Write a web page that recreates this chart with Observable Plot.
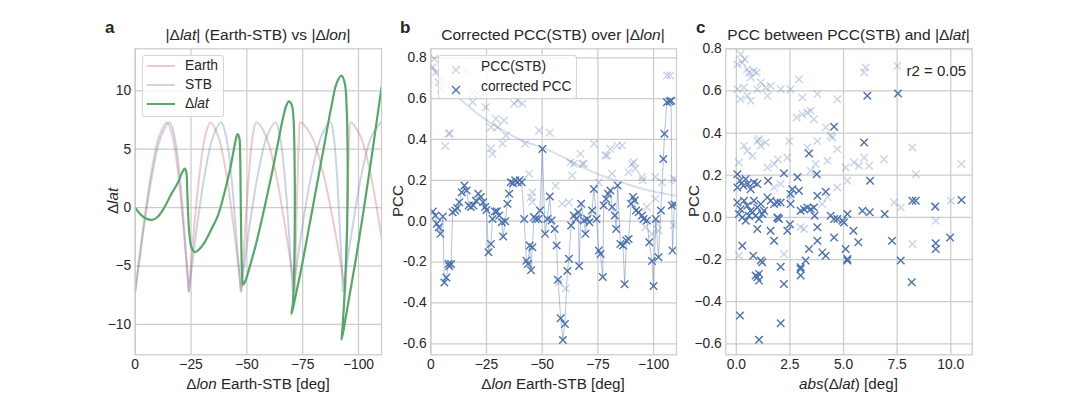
<!DOCTYPE html>
<html><head><meta charset="utf-8">
<script src="https://cdn.jsdelivr.net/npm/d3@7"></script>
<script src="https://cdn.jsdelivr.net/npm/@observablehq/plot@0.6"></script>
<style>
body{margin:0;background:#fff;}
#fig{position:relative;width:1080px;height:405px;overflow:hidden;background:#fff;font-family:"Liberation Sans",Arial,sans-serif;color:#262626;}
.abs{position:absolute;white-space:nowrap;line-height:1;}
.c{transform:translate(-50%,-50%);}
.lc{transform:translate(0,-50%);}
.letter{font-weight:bold;font-size:17px;}
.title{font-size:15.5px;}
.lab{font-size:15.2px;}
.rot{transform:translate(-50%,-50%) rotate(-90deg);}
.legend{background:rgba(255,255,255,0.8);border:1px solid rgba(204,204,204,0.8);border-radius:3px;box-sizing:border-box;}
.ltxt{font-size:13.8px;}
</style></head>
<body><div id="fig"></div>
<script>
// ---------- Panel a data ----------
const earthLon = [0,-0.6,-1.4,-3.6,-7.2,-10.7,-14.3,-16.7,-19.2,-21.6,-23.0,-23.6,-24.0,
 -24.4,-25.0,-26.4,-28.9,-31.3,-33.7,-37.2,-40.7,-44.1,-46.2,-47.0,-47.6,
 -47.9,-48.3,-49.3,-51.0,-52.6,-54.3,-58.6,-62.9,-67.2,-69.8,-70.8,-71.5,
 -71.6,-71.8,-72.1,-72.8,-73.4,-74.0,-79.1,-84.1,-89.2,-92.2,-93.4,-94.2,
 -94.3,-94.4,-94.8,-95.4,-95.9,-96.5,-100.9,-105.3,-109.6,-112.3,-113.3,-114.0];
const earthLat = [-7.2,-6.3,-4.95,-1.7,3.0,6.1,7.3,6.1,3.0,-1.7,-4.95,-6.3,-7.2,
 -6.3,-4.95,-1.7,3.0,6.1,7.3,6.1,3.0,-1.7,-4.95,-6.3,-7.2,
 -6.3,-4.95,-1.7,3.0,6.1,7.3,6.1,3.0,-1.7,-4.95,-6.3,-7.2,
 -6.3,-4.95,-1.7,3.0,6.1,7.3,6.1,3.0,-1.7,-4.95,-6.3,-7.2,
 -6.3,-4.95,-1.7,3.0,6.1,7.3,6.1,3.0,-1.7,-4.95,-6.3,-7.2];
const stbLon = [0,-0.6,-1.6,-3.9,-7.8,-11.6,-15.5,-17.6,-19.8,-21.9,-23.2,-23.7,-24.0,
 -24.6,-25.5,-27.6,-31.3,-34.9,-38.5,-40.7,-42.9,-45.0,-46.3,-46.9,-47.2,
 -47.8,-48.8,-51.1,-55.1,-59.0,-62.9,-64.8,-66.8,-68.7,-69.8,-70.3,-70.6,
 -71.3,-72.3,-74.8,-79.1,-83.3,-87.5,-88.9,-90.3,-91.6,-92.5,-92.8,-93.0,
 -93.7,-94.7,-97.3,-101.5,-105.8,-110.0];
const stbLat = [-7.2,-6.3,-4.95,-1.7,3.0,6.1,7.3,6.1,3.0,-1.7,-4.95,-6.3,-7.2,
 -6.3,-4.95,-1.7,3.0,6.1,7.3,6.1,3.0,-1.7,-4.95,-6.3,-7.2,
 -6.3,-4.95,-1.7,3.0,6.1,7.3,6.1,3.0,-1.7,-4.95,-6.3,-7.2,
 -6.3,-4.95,-1.7,3.0,6.1,7.3,6.1,3.0,-1.7,-4.95,-6.3,-7.2,
 -6.3,-4.95,-1.7,3.0,6.1,7.3];
const dlatLon = [0,-2,-4,-7.5,-10,-13,-16,-19,-21,-22.2,-22.9,-23.3,-23.7,-24.3,-25.2,
 -26.6,-28.5,-31,-34,-37,-40,-42.5,-44.5,-45.8,-46.6,-47.0,-47.2,-47.4,-47.6,-47.9,
 -48.3,-49.3,-50.5,-52,-54,-56,-58,-61.4,-64,-66,-67.6,-68.8,-70.1,-70.9,-71.3,
 -71.5,-71.4,-71.1,-70.6,-70.0,-70.8,-72,-74,-76,-79,-82,-85,-88,-90.3,-92.4,
 -93.9,-94.7,-95.1,-95.1,-94.8,-94.2,-93.5,-92.8,-92.4,-93.3,-95,-97,-99,-102,-106,-110.3];
const dlatVal = [0,-0.5,-0.85,-1.05,-0.8,0.0,1.1,2.1,3.0,3.35,3.0,1.5,-0.5,-2.3,-3.4,
 -3.8,-3.6,-3.0,-1.9,-0.7,1.3,3.3,5.3,6.3,6.0,4.5,1.5,-1.5,-4.0,-6.0,
 -6.6,-6.3,-5.6,-4.6,-3.2,-1.6,0.1,3.1,5.6,7.5,8.7,9.1,8.8,7.6,5.0,
 1.0,-3.0,-6.0,-8.2,-9.1,-8.5,-7.4,-5.6,-3.6,-0.5,2.6,5.7,8.8,10.7,11.3,
 10.6,8.5,5.0,1.0,-2.5,-5.5,-8.3,-10.4,-11.3,-10.5,-8.6,-6.4,-4.2,-0.6,4.5,10.3];
const lonTicks = [0,-25,-50,-75,-100];
const lonTickLabels = ["0","−25","−50","−75","−100"];
const latTicks = [-10,-5,0,5,10];
const latTickLabels = ["−10","−5","0","5","10"];

// ---------- Panel b data ----------
const corrLon = [-0.9,-2.1,-2.7,-3.6,-4.3,-5.4,-6.1,-7.0,-8.0,-8.3,-9.1,-9.8,-11,-11.8,-12.8,-13.9,-15.1,-16.1,-17,-18,
 -19.1,-20.3,-21.3,-22.5,-23.5,-24.4,-25,-25.9,-27,-27.7,-28.8,-29.7,-30.7,-31.9,-32.5,-33.4,-34.4,-35.2,-35.9,-37,
 -37.9,-38.9,-39.9,-40.8,-41.9,-42.9,-43.6,-44.4,-45,-45.6,-46.3,-47.1,-48.3,-49,-50.1,-51.3,-52.3,-53.4,-54.2,-55.6,
 -56.5,-57.1,-58.3,-59.3,-60.2,-61.3,-62,-63,-64.2,-65.3,-66.2,-66.6,-67.5,-68.7,-69.4,-70.2,-71.2,-72.4,-73.2,-74.4,
 -75.4,-76.2,-77.2,-77.6,-78.7,-79.6,-80.6,-81.4,-82.6,-83.2,-83.9,-85.1,-86.3,-87,-87.8,-88.8,-89.9,-90.8,-91.5,-92.1,
 -93.3,-94.8,-95.5,-97,-98.1,-99.3,-100,-101,-102.2,-103.3,-104.4,-104.9,-106,-107.2,-107.9,-108.2,-108.5,-109.4];
const corrPcc = [0.047,0.028,-0.013,-0.03,-0.062,0.023,-0.30,-0.276,-0.209,-0.22,-0.209,0.044,0.052,0.065,0.093,0.142,0.175,0.15,0.077,0.069,
 0.077,0.1,0.134,0.118,0.093,0.069,0.055,-0.152,-0.111,0.011,0.047,0.049,0.028,-0.005,-0.075,0.0,0.085,0.134,0.191,0.186,
 0.2,0.191,0.2,0.191,0.011,-0.193,-0.21,-0.119,-0.24,-0.127,0.02,0.011,0.011,0.052,0.354,-0.062,0.011,0.121,0.003,-0.038,
 -0.119,-0.287,-0.475,-0.581,-0.503,-0.244,-0.184,-0.021,0.028,0.011,0.044,-0.219,0.085,0.003,-0.062,0.011,-0.005,0.052,0.158,0.011,
 -0.144,-0.16,-0.273,0.077,0.109,0.134,0.15,0.069,0.028,-0.038,0.175,-0.111,-0.119,-0.309,-0.095,-0.087,0.085,0.118,0.101,0.052,
 0.044,0.028,0.011,0.003,-0.103,-0.195,-0.317,0.011,-0.176,0.052,0.305,0.428,0.582,0.586,0.59,0.077,-0.144,0.082];
const pccLon = [-0.9,-1.6,-2.4,-3.5,-4.6,-6.5,-8.0,-8.6,-12.1,-15.8,-18.8,-18.8,-21,-24.7,-27,-27,-27.7,-29.2,-30,-32.2,
 -32.9,-33.7,-37.4,-38.9,-41.1,-42.3,-44.1,-44.9,-45.6,-45.6,-48.6,-53.4,-56,-57.5,-59,-60.5,-62,-62.7,-63.5,-64.2,
 -67.2,-68,-68.7,-73.2,-75.4,-78.4,-79.2,-80.6,-81.4,-83.6,-85.9,-88.8,-90.3,-91.1,-91.8,-94.8,-95.2,-96.3,-97,-99.3,
 -100.8,-100.8,-101.5,-102.2,-103.8,-106,-107.5,-109,-109,-110];
const pccStb = [0.754,0.795,0.73,0.68,0.648,0.368,0.428,0.43,0.762,0.738,0.624,0.583,0.624,0.558,0.356,0.46,0.33,0.502,0.46,0.38,
 0.493,0.42,0.575,0.591,0.575,0.379,0.232,0.117,0.142,0.094,0.444,0.433,0.174,-0.30,0.085,-0.33,0.093,0.289,0.224,0.281,
 0.33,0.28,0.281,0.379,0.19,0.322,0.322,0.355,0.232,0.37,0.371,0.24,0.28,0.289,0.257,0.216,0.2,-0.03,0.069,-0.062,
 0.216,0.11,-0.013,-0.046,0.191,0.713,0.713,-0.02,0.208,0.2];
const fitLon = [0,-5,-10,-15,-20,-25,-30,-40,-50,-60,-70,-80,-90,-100,-110];
const fitPcc = [0.76,0.69,0.63,0.58,0.535,0.495,0.46,0.40,0.36,0.31,0.255,0.21,0.175,0.145,0.125];
const pccTicks = [-0.6,-0.4,-0.2,0,0.2,0.4,0.6,0.8];
const pccTickLabelsB = ["-0.6","-0.4","-0.2","0.0","0.2","0.4","0.6","0.8"];
const pccTickLabelsC = ["−0.6","−0.4","−0.2","0.0","0.2","0.4","0.6","0.8"];

// ---------- Panel c data ----------
const cCorrX = [4.56,6.11,7.54,0.05,0.05,0.17,0.33,0.44,0.54,0.67,0.82,0.98,0.05,0.2,0.36,0.51,0.67,0.82,0.98,1.14,
 1.29,0.12,0.28,0.44,0.59,0.75,0.9,1.06,1.21,1.45,1.48,1.6,1.76,1.91,2.07,1.91,1.99,2.22,2.53,2.53,
 2.61,2.85,2.92,3.0,3.16,3.31,3.39,3.47,3.62,3.65,3.75,3.78,4.17,3.78,4.4,4.56,4.71,4.95,5.02,5.46,
 5.69,5.88,5.96,6.22,6.24,6.92,7.26,8.21,8.37,9.27,9.3,9.3,9.97,10.5,0.28,0.79,0.98,1.6,1.76,1.94,
 2.38,2.5,3.39,3.78,4.01,4.17,4.56,5.1,5.18,5.18,1.14,2.07,3.0,0.17,1.06,2.07,0.9,0.98,1.06,1.06,
 1.21,2.22,3.0,3.0,3.23,5.18,7.67,8.18];
const cCorrY = [0.43,0.577,0.588,0.205,0.142,0.174,0.15,0.182,0.158,0.134,0.166,0.158,0.071,0.039,0.079,0.055,0.032,0.079,0.047,0.063,
 0.032,0.016,0.0,-0.016,0.008,0.024,0.008,-0.008,0.016,0.095,0.174,0.079,0.063,0.071,0.071,0.0,-0.008,0.209,0.111,0.063,
 0.134,0.19,0.126,0.032,0.039,0.047,0.303,0.039,0.047,0.008,0.205,0.103,0.122,-0.047,0.008,-0.008,-0.008,-0.016,-0.024,-0.063,
 -0.118,0.032,0.355,0.024,0.174,0.016,-0.111,0.079,0.079,0.051,-0.123,-0.15,-0.095,0.082,-0.134,-0.182,-0.055,-0.063,-0.111,-0.003,
 -0.063,-0.032,-0.15,-0.111,-0.166,-0.182,-0.095,-0.15,-0.197,0.016,-0.205,-0.234,-0.237,-0.466,-0.581,-0.502,-0.276,-0.284,-0.268,-0.3,
 -0.213,-0.316,-0.245,-0.276,-0.205,-0.205,-0.205,-0.308];
const cPccX = [0.05,0.2,0.28,0.39,0.51,0.59,0.67,0.82,0.95,0.05,0.2,0.36,0.51,0.67,0.98,1.14,1.37,1.45,1.6,2.07,
 2.53,2.92,3.08,3.47,2.81,3.08,3.31,3.62,3.78,4.17,4.71,4.48,5.96,6.03,7.51,0.12,0.36,0.51,0.75,0.98,
 1.14,1.37,1.06,1.45,1.76,1.94,2.38,2.46,3.31,3.47,3.7,3.78,4.25,4.4,4.71,5.1,5.18,5.49,5.72,5.96,
 6.19,6.89,7.36,7.67,8.21,8.37,9.3,9.3,10.0,10.5,8.21,3.0,3.16,2.22,0.12,1.76,2.07,2.53,4.01,4.25,4.71];
const cPccY = [0.727,0.774,0.735,0.75,0.703,0.687,0.664,0.695,0.687,0.608,0.561,0.616,0.577,0.553,0.608,0.64,0.616,0.577,0.624,0.608,
 0.608,0.656,0.569,0.506,0.474,0.49,0.498,0.466,0.585,0.427,0.561,0.379,0.687,0.711,0.719,0.261,0.34,0.316,0.292,0.363,
 0.34,0.355,0.371,0.237,0.253,0.276,0.284,0.363,0.332,0.221,0.253,0.363,0.269,0.387,0.324,0.237,0.174,0.261,0.245,0.284,
 0.245,0.276,0.071,0.047,0.332,0.205,0.055,-0.016,0.079,0.253,-0.126,-0.047,-0.055,-0.174,-0.182,0.142,0.158,0.095,0.063,0.095,0.142];
const absTicks = [0,2.5,5,7.5,10];
const absTickLabels = ["0.0","2.5","5.0","7.5","10.0"];

// ---------- build ----------
const zip = (xs, ys) => xs.map((x, i) => ({x, y: ys[i]}));
const earth = zip(earthLon, earthLat), stb = zip(stbLon, stbLat), dlat = zip(dlatLon, dlatVal);
const corr = zip(corrLon, corrPcc), pcc = zip(pccLon, pccStb), fit = zip(fitLon, fitPcc);
const cCorr = zip(cCorrX, cCorrY), cPcc = zip(cPccX, cPccY);

const BLUE = "#4C72B0", RED = "#C44E52", GREEN = "#55A868", GRID = "#cccccc";
const fig = document.getElementById("fig");
const lookup = (ticks, labels) => d => labels[ticks.indexOf(d)];

function panel(left, ml, mr, xdom, ydom, xt, xl, yt, yl, marks) {
  const svg = Plot.plot({
    width: 290, height: 405,
    marginLeft: ml, marginRight: mr, marginTop: 48.3, marginBottom: 50.7,
    x: {domain: xdom}, y: {domain: ydom},
    style: {fontFamily: '"Liberation Sans", Arial, sans-serif', fontSize: "13.8px", color: "#262626", background: "transparent"},
    marks: [
      Plot.gridX(xt, {stroke: GRID, strokeOpacity: 1, strokeWidth: 1.25}),
      Plot.gridY(yt, {stroke: GRID, strokeOpacity: 1, strokeWidth: 1.25}),
      ...marks,
      Plot.frame({stroke: GRID, strokeWidth: 1.25}),
      Plot.axisX(xt, {tickSize: 0, tickPadding: 4, tickFormat: lookup(xt, xl), label: null}),
      Plot.axisY(yt, {tickSize: 0, tickPadding: 4, tickFormat: lookup(yt, yl), label: null})
    ]
  });
  svg.style.position = "absolute"; svg.style.left = left + "px"; svg.style.top = "0px";
  fig.appendChild(svg);
}

const X = (d) => d.x, Y = (d) => d.y;
panel(100, 34.7, 9, [0, -110.3], [-12.6, 13.6], lonTicks, lonTickLabels, latTicks, latTickLabels, [
  Plot.line(earth, {x: "x", y: "y", stroke: RED, strokeOpacity: 0.3, strokeWidth: 2, curve: "catmull-rom", clip: true}),
  Plot.line(stb, {x: "x", y: "y", stroke: BLUE, strokeOpacity: 0.3, strokeWidth: 2, curve: "catmull-rom", clip: true}),
  Plot.line(dlat, {x: "x", y: "y", stroke: GREEN, strokeWidth: 2.2, curve: "catmull-rom", clip: true})
]);
panel(395, 35.3, 9, [0, -110.3], [-0.654, 0.844], lonTicks, lonTickLabels, pccTicks, pccTickLabelsB, [
  Plot.dot(pcc, {x: "x", y: "y", symbol: "times", stroke: BLUE, strokeOpacity: 0.3, r: 3.5, strokeWidth: 1.4, clip: true}),
  Plot.line(fit, {x: "x", y: "y", stroke: BLUE, strokeOpacity: 0.22, strokeWidth: 2, curve: "natural", clip: true}),
  Plot.line(corr, {x: "x", y: "y", stroke: BLUE, strokeOpacity: 0.55, strokeWidth: 0.8, clip: true}),
  Plot.dot(corr, {x: "x", y: "y", symbol: "times", stroke: BLUE, r: 3.5, strokeWidth: 1.4, clip: true})
]);
panel(690, 35.3, 8.3, [-0.49, 11.0], [-0.652, 0.8], absTicks, absTickLabels, pccTicks, pccTickLabelsC, [
  Plot.dot(cPcc, {x: "x", y: "y", symbol: "times", stroke: BLUE, strokeOpacity: 0.3, r: 3.5, strokeWidth: 1.4}),
  Plot.dot(cCorr, {x: "x", y: "y", symbol: "times", stroke: BLUE, r: 3.5, strokeWidth: 1.4}),
  Plot.text(["r2 = 0.05"], {frameAnchor: "top-right", dx: -6, dy: 17, fontSize: 15, fill: "#262626"})
]);

// ---------- text ----------
function txt(html, cls, x, y) {
  const d = document.createElement("div");
  d.className = "abs " + cls; d.innerHTML = html;
  d.style.left = x + "px"; d.style.top = y + "px";
  fig.appendChild(d); return d;
}
txt("a", "letter lc", 105, 27);
txt("b", "letter lc", 400, 27);
txt("c", "letter lc", 696, 27);
txt("|Δ<i>lat</i>| (Earth-STB) vs |Δ<i>lon</i>|", "title c", 258, 35);
txt("Corrected PCC(STB) over |Δ<i>lon</i>|", "title c", 553, 35);
txt("PCC between PCC(STB) and |Δ<i>lat</i>|", "title c", 848.5, 35);
txt("Δ<i>lon</i> Earth-STB [deg]", "lab c", 258, 384);
txt("Δ<i>lon</i> Earth-STB [deg]", "lab c", 553, 384);
txt("<i>abs</i>(Δ<i>lat</i>) [deg]", "lab c", 848.5, 384);
txt("Δ<i>lat</i>", "lab rot", 112.5, 201);
txt("PCC", "lab rot", 398, 201);
txt("PCC", "lab rot", 694, 201);

// legends
function box(x, y, w, h) { const d = txt("", "legend", x, y); d.style.width = w + "px"; d.style.height = h + "px"; }
box(141.7, 55, 82.6, 61.7);
function lineKey(x, y, color, width) {
  const d = txt("", "", x, y - width / 2);
  d.style.width = "28px"; d.style.height = width + "px"; d.style.background = color;
}
lineKey(146.7, 65.7, "rgba(196,78,82,0.3)", 2);
lineKey(146.7, 85, "rgba(76,114,176,0.3)", 2);
lineKey(146.7, 104.3, GREEN, 2.2);
txt("Earth", "ltxt lc", 185, 65.7);
txt("STB", "ltxt lc", 185, 85);
txt("Δ<i>lat</i>", "ltxt lc", 185, 104.3);

box(438.3, 55, 138.4, 44);
function crossKey(x, y, op) {
  const d = txt('<svg width="10" height="10"><path d="M1,1L9,9M9,1L1,9" stroke="#4C72B0" stroke-opacity="' + op + '" stroke-width="1.4" fill="none"/></svg>', "", x - 5, y - 5);
}
crossKey(456, 66.7, 0.3);
crossKey(456, 86.7, 1);
txt("PCC(STB)", "ltxt lc", 481, 66.7);
txt("corrected PCC", "ltxt lc", 481, 86.7);
</script>
</body></html>
